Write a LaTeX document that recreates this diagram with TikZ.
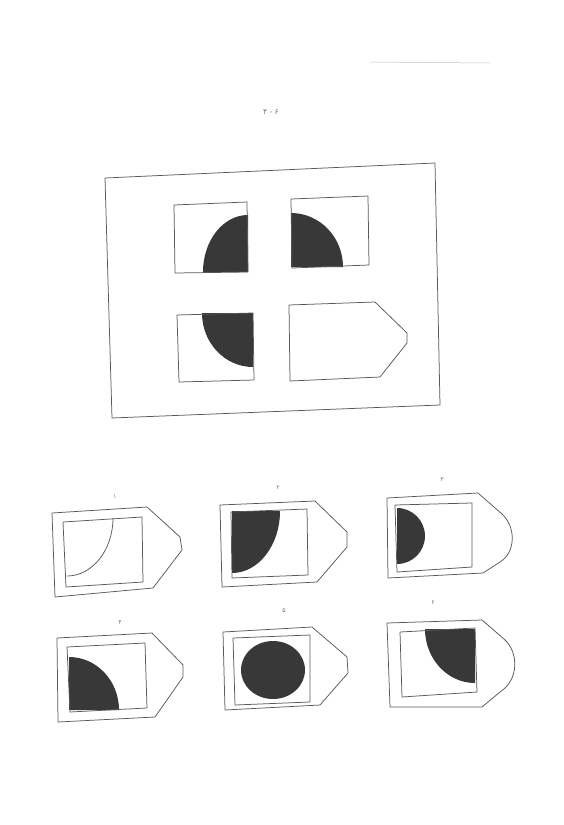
\documentclass[tikz,border=0pt]{standalone}
\usepackage{fontspec}
\TeXXeTstate=1
\newfontfamily\persfont[Script=Arabic]{DejaVu Sans}
\begin{document}
\begin{tikzpicture}[x=1pt,y=-1pt,
  ln/.style={draw=black!65, line width=0.75pt, line join=round},
  shd/.style={fill=black!78, draw=none},
  lab/.style={font=\persfont\fontsize{6}{6}\selectfont, text=black!55, inner sep=0pt}]
\useasboundingbox (0,0) rectangle (563,825);
\fill[white] (0,0) rectangle (563,825);

% faint scan line at top
\draw[black!25, line width=0.5pt] (370,62) -- (490,63);

% header
\node[lab, font=\persfont\fontsize{7.5}{7.5}\selectfont] (hdr) at (271,112) {\beginR ۶ - ۴\endR};

% ===== question frame =====
\draw[ln] (105,178) -- (435,163) -- (440,405) -- (112,418) -- cycle;

% top-left cell
\fill[shd] (248,272) -- (203,272) arc[start angle=180,end angle=270,x radius=45,y radius=57] -- cycle;
\draw[ln] (174,205) -- (247,202) -- (248,272) -- (175,273) -- cycle;
% top-right cell
\fill[shd] (291,267) -- (291,213) arc[start angle=270,end angle=360,x radius=52,y radius=54] -- cycle;
\draw[ln] (291,199) -- (368,196) -- (369,265) -- (292,268) -- cycle;
% bottom-left cell
\fill[shd] (253,313) -- (202,313) arc[start angle=180,end angle=90,x radius=51,y radius=54] -- cycle;
\draw[ln] (177,315) -- (253,313) -- (254,380) -- (179,382) -- cycle;
% bottom-right empty tag
\draw[ln] (289,305) -- (375,302) -- (407,333) -- (407,343) -- (380,377) -- (290,381) -- cycle;

% ===== options =====
% option 1
\node[lab] (l1) at (115,497) {۱};
\draw[ln] (52,513) -- (147,507) -- (180,537) -- (182,550) -- (153,588) -- (55,597) -- cycle;
\draw[ln] (63,522) -- (142,517) -- (143,582) -- (66,587) -- cycle;
\draw[ln] (113,518) arc[start angle=0,end angle=90,x radius=46,y radius=58];

% option 2
\node[lab] (l2) at (278,488) {۲};
\draw[ln] (220,505) -- (315,501) -- (347,532) -- (347,547) -- (317,582) -- (222,587) -- cycle;
\fill[shd] (232,511) -- (280,511) arc[start angle=0,end angle=90,x radius=48,y radius=62] -- cycle;
\draw[ln] (231,512) -- (307,509) -- (308,575) -- (232,578) -- cycle;

% option 3
\node[lab] (l3) at (442,480) {۳};
\draw[ln] (387,498) -- (478,493) -- (502,514) .. controls (516,527) and (516,552) .. (500,562) -- (483,573) -- (388,578) -- cycle;
\fill[shd] (397,508) arc[start angle=270,end angle=450,x radius=28,y radius=28] -- cycle;
\draw[ln] (395,505) -- (472,503) -- (472,567) -- (397,572) -- cycle;

% option 4
\node[lab] (l4) at (120,623) {۴};
\draw[ln] (57,638) -- (152,633) -- (183,665) -- (183,677) -- (155,717) -- (58,722) -- cycle;
\fill[shd] (69,710) -- (69,657) arc[start angle=270,end angle=360,x radius=50,y radius=53] -- cycle;
\draw[ln] (67,647) -- (145,643) -- (147,708) -- (70,712) -- cycle;

% option 5
\node[lab] (l5) at (284,611) {۵};
\draw[ln] (223,632) -- (312,627) -- (347,657) -- (348,673) -- (320,705) -- (225,710) -- cycle;
\draw[ln] (233,638) -- (310,635) -- (310,702) -- (235,705) -- cycle;
\fill[shd] (273,670) ellipse[x radius=32,y radius=29];

% option 6
\node[lab] (l6) at (433,603) {۶};
\draw[ln] (387,623) -- (482,620) -- (504,639) .. controls (519,652) and (519,680) .. (500,692) -- (482,707) -- (390,707) -- cycle;
\fill[shd] (475,629) -- (425,629) arc[start angle=180,end angle=90,x radius=50,y radius=54] -- cycle;
\draw[ln] (400,632) -- (475,628) -- (477,692) -- (402,697) -- cycle;
\end{tikzpicture}
\end{document}
